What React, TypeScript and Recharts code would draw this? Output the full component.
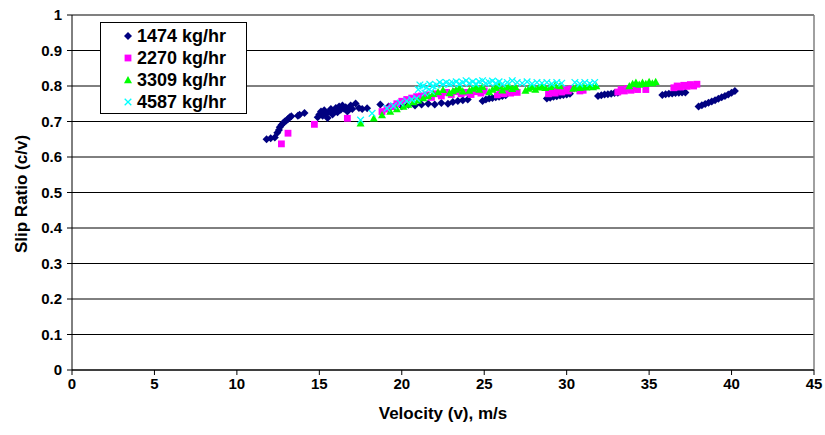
import React from "react";
import { ScatterChart, Scatter, XAxis, YAxis, CartesianGrid, ReferenceLine } from "recharts";

const xTicks = [0, 5, 10, 15, 20, 25, 30, 35, 40, 45];
const yTicks = [0, 0.1, 0.2, 0.3, 0.4, 0.5, 0.6, 0.7, 0.8, 0.9, 1];

const seriesNames = ["1474 kg/hr", "2270 kg/hr", "3309 kg/hr", "4587 kg/hr"];
const seriesColors = ["#000080", "#FF00FF", "#00FF00", "#00FFFF"];

const flow1474: [number, number][] = [
  [11.8, 0.65], [12.05, 0.653], [12.3, 0.655], [12.45, 0.668], [12.55, 0.676], [12.6, 0.684], [12.7, 0.69],
  [12.8, 0.695], [12.9, 0.7], [13.0, 0.703], [13.1, 0.707], [13.2, 0.712], [13.3, 0.715], [13.7, 0.716],
  [13.8, 0.719], [14.1, 0.724],
  [14.9, 0.712], [15.0, 0.72], [15.1, 0.728], [15.2, 0.716], [15.3, 0.732], [15.4, 0.722], [15.5, 0.71],
  [15.6, 0.728], [15.7, 0.735], [15.8, 0.72], [15.9, 0.73], [16.0, 0.738], [16.1, 0.726], [16.2, 0.742],
  [16.3, 0.733], [16.4, 0.745], [16.5, 0.736], [16.6, 0.74], [16.7, 0.728], [16.8, 0.736], [16.9, 0.745],
  [17.0, 0.735], [17.2, 0.751], [17.4, 0.738], [17.6, 0.735], [17.9, 0.737], [18.7, 0.748],
  [19.2, 0.742], [19.6, 0.745], [20.0, 0.743], [20.4, 0.747], [20.8, 0.745], [21.2, 0.748], [21.6, 0.75],
  [22.0, 0.748], [22.4, 0.752], [22.8, 0.75], [23.1, 0.755], [23.4, 0.758], [23.7, 0.76], [24.0, 0.762],
  [24.9, 0.758], [25.1, 0.762], [25.3, 0.765], [25.5, 0.766], [25.7, 0.768], [25.9, 0.77], [26.1, 0.772], [26.3, 0.774],
  [28.8, 0.765], [29.0, 0.767], [29.2, 0.77], [29.4, 0.771], [29.6, 0.773], [29.8, 0.775], [30.0, 0.776], [30.2, 0.778],
  [31.9, 0.772], [32.1, 0.774], [32.3, 0.776], [32.5, 0.777], [32.7, 0.778], [32.9, 0.78], [33.1, 0.781],
  [35.8, 0.775], [36.0, 0.777], [36.2, 0.778], [36.4, 0.779], [36.6, 0.78], [36.8, 0.781], [37.0, 0.782], [37.2, 0.782],
  [38.0, 0.742], [38.2, 0.746], [38.4, 0.749], [38.6, 0.753], [38.8, 0.756], [39.0, 0.76], [39.2, 0.764],
  [39.4, 0.768], [39.6, 0.772], [39.8, 0.776], [40.0, 0.781], [40.2, 0.786],
];

const flow2270: [number, number][] = [
  [12.7, 0.637], [13.1, 0.667], [14.7, 0.692], [16.7, 0.709],
  [18.8, 0.728], [19.1, 0.735], [19.4, 0.742], [19.7, 0.75], [20.0, 0.757], [20.3, 0.762], [20.6, 0.766],
  [20.9, 0.77], [21.2, 0.772], [21.5, 0.775], [21.8, 0.768], [22.1, 0.778], [22.4, 0.772], [22.7, 0.782],
  [23.0, 0.776], [23.3, 0.784], [23.6, 0.778], [23.9, 0.782], [24.2, 0.776], [24.5, 0.784], [24.8, 0.78], [25.0, 0.786],
  [25.8, 0.775], [26.0, 0.782], [26.2, 0.778], [26.4, 0.785], [26.6, 0.78], [26.8, 0.786], [27.0, 0.782],
  [28.9, 0.778], [29.1, 0.785], [29.3, 0.78], [29.5, 0.788], [29.7, 0.783], [29.9, 0.79], [30.1, 0.786], [30.3, 0.792],
  [30.8, 0.786], [31.0, 0.788],
  [33.1, 0.783], [33.3, 0.79], [33.5, 0.786], [33.7, 0.793], [33.9, 0.788], [34.1, 0.795], [34.3, 0.79],
  [34.8, 0.79],
  [36.5, 0.795], [36.7, 0.8], [36.9, 0.797], [37.1, 0.802], [37.3, 0.799], [37.5, 0.804], [37.7, 0.8], [37.9, 0.805],
];

const flow3309: [number, number][] = [
  [17.5, 0.695], [18.3, 0.709], [18.8, 0.718], [19.3, 0.728], [19.7, 0.735], [20.1, 0.742], [20.4, 0.748],
  [20.7, 0.755], [21.0, 0.76], [21.3, 0.766], [21.6, 0.772], [21.9, 0.778], [22.2, 0.783], [22.5, 0.789],
  [22.9, 0.78], [23.1, 0.786], [23.3, 0.79], [23.5, 0.794], [23.7, 0.785],
  [24.1, 0.787], [24.3, 0.793], [24.5, 0.797], [24.7, 0.79], [24.9, 0.798],
  [25.3, 0.783], [25.5, 0.79], [25.7, 0.795], [25.9, 0.8], [26.1, 0.788], [26.3, 0.796], [26.5, 0.8], [26.7, 0.792], [26.9, 0.797],
  [27.5, 0.787], [27.7, 0.793], [27.9, 0.798], [28.1, 0.79], [28.3, 0.796], [28.5, 0.8], [28.7, 0.795],
  [29.0, 0.798], [29.3, 0.802], [29.6, 0.8],
  [30.4, 0.793], [30.6, 0.798], [30.8, 0.795], [31.0, 0.8], [31.2, 0.796], [31.4, 0.801], [31.6, 0.797], [31.8, 0.8],
  [33.8, 0.8], [34.0, 0.806], [34.2, 0.81], [34.4, 0.804], [34.6, 0.81], [34.8, 0.806], [35.0, 0.812], [35.2, 0.808], [35.4, 0.812],
];

const flow4587: [number, number][] = [
  [17.5, 0.704], [18.2, 0.723], [19.1, 0.737], [19.5, 0.744], [19.9, 0.752], [20.3, 0.758], [20.6, 0.762],
  [20.9, 0.765], [21.0, 0.79], [21.1, 0.803], [21.3, 0.8], [21.4, 0.78], [21.5, 0.796], [21.7, 0.805], [21.8, 0.785],
  [21.9, 0.8], [22.1, 0.803], [22.3, 0.81], [22.5, 0.805], [22.7, 0.81], [22.9, 0.806], [23.1, 0.808], [23.3, 0.812],
  [23.5, 0.806], [23.7, 0.81], [23.9, 0.815], [24.1, 0.808], [24.3, 0.812], [24.5, 0.806], [24.7, 0.812], [24.9, 0.815],
  [25.1, 0.808], [25.3, 0.81], [25.5, 0.814], [25.7, 0.808], [25.9, 0.812], [26.1, 0.806], [26.4, 0.81], [26.7, 0.815],
  [27.0, 0.81], [27.3, 0.808], [27.6, 0.812], [27.9, 0.806], [28.2, 0.81], [28.5, 0.808], [28.8, 0.81], [29.1, 0.806],
  [29.4, 0.81], [29.7, 0.808], [30.5, 0.81], [30.8, 0.806], [31.1, 0.81], [31.4, 0.807], [31.7, 0.81],
];

const toPoints = (arr: [number, number][]) => arr.map(([v, s]) => ({ v, s }));
const seriesData = [flow1474, flow2270, flow3309, flow4587].map(toPoints);

const FONT = "'Liberation Sans', Arial, sans-serif";

const drawMarker = (idx: number, cx: number, cy: number, color: string) => {
  if (idx === 0) {
    const r = 4;
    return <polygon points={`${cx},${cy - r} ${cx + r},${cy} ${cx},${cy + r} ${cx - r},${cy}`} fill={color} />;
  }
  if (idx === 1) {
    const r = 3.4;
    return <rect x={cx - r} y={cy - r} width={2 * r} height={2 * r} fill={color} />;
  }
  if (idx === 2) {
    const r = 4;
    return <polygon points={`${cx},${cy - r} ${cx + r},${cy + r * 0.8} ${cx - r},${cy + r * 0.8}`} fill={color} />;
  }
  const r = 3.3;
  return (
    <g stroke={color} strokeWidth={1.3}>
      <line x1={cx - r} y1={cy - r} x2={cx + r} y2={cy + r} />
      <line x1={cx - r} y1={cy + r} x2={cx + r} y2={cy - r} />
    </g>
  );
};

const makeShape = (idx: number) => (props: any) => {
  const { cx, cy } = props;
  if (cx == null || cy == null) return <g />;
  return drawMarker(idx, cx, cy, seriesColors[idx]);
};

const LegendBox = () => (
  <div
    style={{
      position: "absolute",
      left: 100,
      top: 22,
      width: 145,
      height: 90,
      border: "1px solid #000",
      background: "#fff",
      fontFamily: FONT,
      fontWeight: "bold",
      fontSize: 18,
      boxSizing: "content-box",
    }}
  >
    {seriesNames.map((name, i) => (
      <div key={name} style={{ position: "relative", height: 22, marginTop: i === 0 ? 2 : 0, lineHeight: "22px" }}>
        <svg width={14} height={14} style={{ position: "absolute", left: 20, top: 4 }}>
          {drawMarker(i, 7, 7, seriesColors[i])}
        </svg>
        <span style={{ position: "absolute", left: 36, top: 0, whiteSpace: "nowrap" }}>{name}</span>
      </div>
    ))}
  </div>
);

const YLabel = () => (
  <text
    x={21}
    y={194}
    transform="rotate(-90 21 194)"
    textAnchor="middle"
    dominantBaseline="central"
    fontFamily={FONT}
    fontWeight="bold"
    fontSize={17}
    fill="#000"
  >
    Slip Ratio (c/v)
  </text>
);

export default function App() {
  return (
    <div style={{ position: "absolute", left: 0, top: 0, width: 825, height: 435, background: "#fff" }}>
      <ScatterChart width={825} height={435} margin={{ top: 15, right: 11, bottom: 0, left: 0 }}>
        <CartesianGrid horizontal vertical={false} stroke="#000" strokeWidth={1} />
        <XAxis
          type="number"
          dataKey="v"
          domain={[0, 45]}
          ticks={xTicks}
          interval={0}
          height={65}
          axisLine={{ stroke: "#000" }}
          tickLine={{ stroke: "#000" }}
          tickSize={5}
          tickMargin={3}
          tick={{ fill: "#000", fontFamily: FONT, fontWeight: "bold", fontSize: 15 }}
          label={{ value: "Velocity (v), m/s", position: "insideBottom", offset: 16, fill: "#000", fontFamily: FONT, fontWeight: "bold", fontSize: 17 }}
        />
        <YAxis
          type="number"
          dataKey="s"
          domain={[0, 1]}
          ticks={yTicks}
          interval={0}
          width={72}
          axisLine={{ stroke: "#000" }}
          tickLine={{ stroke: "#000" }}
          tickSize={5}
          tickMargin={5}
          tick={{ fill: "#000", fontFamily: FONT, fontWeight: "bold", fontSize: 15 }}
          label={{ content: () => <YLabel /> }}
        />
        <ReferenceLine y={1} stroke="#808080" strokeWidth={1.5} />
        <ReferenceLine x={45} stroke="#808080" strokeWidth={1.5} />
        {seriesData.map((d, i) => (
          <Scatter
            key={seriesNames[i]}
            name={seriesNames[i]}
            data={d}
            fill={seriesColors[i]}
            shape={makeShape(i)}
            isAnimationActive={false}
          />
        ))}
      </ScatterChart>
      <LegendBox />
    </div>
  );
}
